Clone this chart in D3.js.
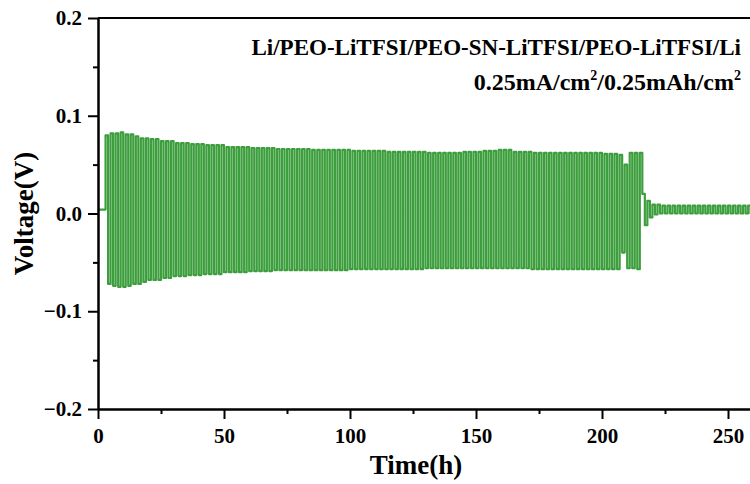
<!DOCTYPE html>
<html>
<head>
<meta charset="utf-8">
<script src="https://cdn.jsdelivr.net/npm/d3@7"></script>
<style>
  html, body { margin: 0; padding: 0; background: #fff; overflow: hidden; }
  svg { display: block; font-family: "Liberation Serif", "Times New Roman", serif; font-weight: bold; }
</style>
</head>
<body>
<div class="chart"></div>
<script>
// ----------------------------------
// DATA
// ----------------------------------
const timeTicks = [0, 50, 100, 150, 200, 250];
const timeMinorTicks = [25, 75, 125, 175, 225];
const voltTicks = [-0.2, -0.1, 0.0, 0.1, 0.2];
const voltMinorTicks = [-0.15, -0.05, 0.05, 0.15];

// rest before cycling
const restTimes = [0, 3];
const restVolts = [0.004, 0.004];

// cycling blocks: start time (h), peak plating / stripping voltage held through the block
const blockStart = [3, 5, 8, 11, 14, 17, 20, 25, 30, 36, 42, 50, 60, 70, 85, 100, 115, 130, 145, 152, 158, 165, 172, 185, 200, 206, 208, 210, 213];
const blockUpper = [0.080, 0.082, 0.083, 0.081, 0.079, 0.077, 0.076, 0.074, 0.072, 0.071, 0.070, 0.068, 0.067, 0.066, 0.065, 0.064, 0.063, 0.062, 0.063, 0.064, 0.065, 0.063, 0.062, 0.062, 0.061, 0.060, 0.050, 0.062, 0.062];
const blockLower = [-0.072, -0.074, -0.075, -0.074, -0.072, -0.070, -0.068, -0.066, -0.064, -0.063, -0.062, -0.060, -0.059, -0.058, -0.058, -0.057, -0.057, -0.056, -0.056, -0.056, -0.056, -0.056, -0.057, -0.057, -0.057, -0.057, -0.040, -0.056, -0.057];
const cycleEnd = 216;
const halfCycle = 1; // h, 0.25 mAh/cm2 at 0.25 mA/cm2

// after the short circuit
const tailStart = [216, 218, 220, 223];
const tailUpper = [0.020, 0.013, 0.009, 0.008];
const tailLower = [-0.012, -0.004, -0.001, 0.000];
const tailEnd = 262;

// ----------------------------------
// BUILD THE VOLTAGE TRACE
// ----------------------------------
function blockIndex(starts, t) {
  let i = 0;
  while (i + 1 < starts.length && starts[i + 1] <= t) i++;
  return i;
}

const trace = restTimes.map((t, i) => ({ t: t, v: restVolts[i] }));

function addCycles(from, to, starts, upper, lower) {
  let sign = 1;
  for (let t = from; t < to - 1e-9; t += halfCycle) {
    const i = blockIndex(starts, t);
    const v = sign > 0 ? upper[i] : lower[i];
    trace.push({ t: t, v: v });
    trace.push({ t: Math.min(t + halfCycle, to), v: v });
    sign = -sign;
  }
}
addCycles(blockStart[0], cycleEnd, blockStart, blockUpper, blockLower);
addCycles(tailStart[0], tailEnd, tailStart, tailUpper, tailLower);

// ----------------------------------
// SET UP
// ----------------------------------
const width = 750, height = 484;
const margin = { top: 18, left: 98, bottom: 75 };
const pxPerHour = 2.52;

const x = d3.scaleLinear().domain([0, 262]).range([margin.left, margin.left + 262 * pxPerHour]);
const y = d3.scaleLinear().domain([-0.2, 0.2]).range([height - margin.bottom, margin.top]);

const svg = d3.select('.chart').append('svg')
  .attr('width', width)
  .attr('height', height);

const green = '#3c9e3c';

// ----------------------------------
// THE LINE
// ----------------------------------
const line = d3.line().x(d => x(d.t)).y(d => y(d.v));

svg.append('path')
  .datum(trace)
  .attr('fill', 'none')
  .attr('stroke', green)
  .attr('stroke-width', 2.2)
  .attr('stroke-linejoin', 'round')
  .attr('d', line);

// ----------------------------------
// AXES
// ----------------------------------
const fmtY = d3.format('.1f');

svg.append('g')
  .attr('class', 'x axis')
  .attr('transform', `translate(0,${y(-0.2)})`)
  .call(d3.axisBottom(x).tickValues(timeTicks).tickSize(10).tickSizeOuter(0).tickPadding(9));

svg.append('g')
  .attr('transform', `translate(0,${y(-0.2)})`)
  .call(d3.axisBottom(x).tickValues(timeMinorTicks).tickSize(5).tickSizeOuter(0).tickFormat(''));

svg.append('g')
  .attr('class', 'y axis')
  .attr('transform', `translate(${x(0)},0)`)
  .call(d3.axisLeft(y).tickValues(voltTicks).tickSize(10).tickSizeOuter(0).tickPadding(6).tickFormat(fmtY));

svg.append('g')
  .attr('transform', `translate(${x(0)},0)`)
  .call(d3.axisLeft(y).tickValues(voltMinorTicks).tickSize(5).tickSizeOuter(0).tickFormat(''));

// top frame line
svg.append('line')
  .attr('x1', x(0)).attr('x2', x(262))
  .attr('y1', y(0.2)).attr('y2', y(0.2))
  .attr('stroke', '#000')
  .attr('stroke-width', 2);

svg.selectAll('.domain, .tick line')
  .attr('stroke', '#000')
  .attr('stroke-width', 2);

svg.selectAll('.tick text')
  .attr('fill', '#000')
  .style('font-family', '"Liberation Serif", serif')
  .style('font-weight', 'bold')
  .style('font-size', '21px');

// ----------------------------------
// LABELS
// ----------------------------------
svg.append('text')
  .attr('x', 416)
  .attr('y', 474)
  .attr('text-anchor', 'middle')
  .style('font-size', '27px')
  .text('Time(h)');

svg.append('text')
  .attr('transform', `translate(33,${y(0)}) rotate(-90)`)
  .attr('text-anchor', 'middle')
  .style('font-size', '27px')
  .text('Voltage(V)');

const note = svg.append('g')
  .attr('text-anchor', 'end');

note.append('text')
  .attr('x', 741)
  .attr('y', 55)
  .style('font-size', '23px')
  .text('Li/PEO-LiTFSI/PEO-SN-LiTFSI/PEO-LiTFSI/Li');

const note2 = note.append('text')
  .attr('x', 741)
  .attr('y', 90)
  .style('font-size', '24px');
note2.append('tspan').text('0.25mA/cm');
note2.append('tspan').attr('dy', -10).style('font-size', '14px').text('2');
note2.append('tspan').attr('dy', 10).text('/0.25mAh/cm');
note2.append('tspan').attr('dy', -10).style('font-size', '14px').text('2');
</script>
</body>
</html>
